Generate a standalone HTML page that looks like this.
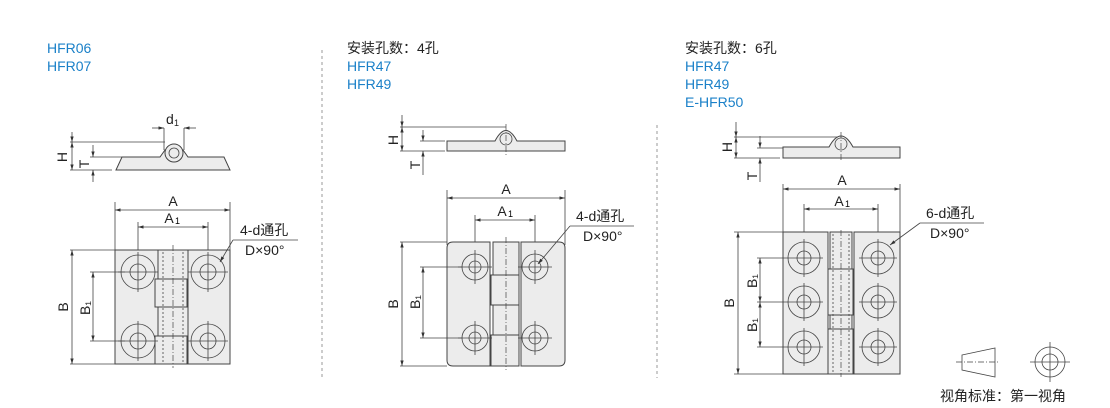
<!DOCTYPE html>
<html><head><meta charset="utf-8"><style>
body{margin:0;background:#fff;}
svg{display:block;font-family:"Liberation Sans","Noto Sans CJK SC",sans-serif;}
.b{fill:#1a80c8;font-size:14px;}
.k{fill:#222;font-size:14px;}
.l{font-size:14px;fill:#222;}
.p{fill:#ececec;stroke:#444;stroke-width:1;}
.d{stroke:#444;stroke-width:0.8;fill:none;}
.c{stroke:#444;stroke-width:0.7;fill:none;stroke-dasharray:6 2 1 2;}
.dash{stroke:#999;stroke-width:1;stroke-dasharray:3 3;}
</style></head><body>
<svg width="1110" height="408" viewBox="0 0 1110 408">
<defs>
<marker id="a" viewBox="0 0 10 10" refX="10" refY="5" markerWidth="7" markerHeight="7" orient="auto-start-reverse"><path d="M0,2 L10,5 L0,8z" fill="#333"/></marker>
<g id="h1">
<circle class="d" cx="0" cy="0" r="17"/><circle class="d" cx="0" cy="0" r="8" fill="#fff"/>
<line class="d" x1="-20" y1="0" x2="20" y2="0"/><line class="d" x1="0" y1="-20" x2="0" y2="20"/>
</g>
<g id="h2">
<circle class="d" r="13"/><circle class="d" r="6" fill="#fff"/>
<line class="d" x1="-17" y1="0" x2="17" y2="0"/><line class="d" x1="0" y1="-17" x2="0" y2="17"/>
</g>
<g id="h3">
<circle class="d" r="16"/><circle class="d" r="7" fill="#fff"/>
<line class="d" x1="-19" y1="0" x2="19" y2="0"/><line class="d" x1="0" y1="-19" x2="0" y2="19"/>
</g>
</defs>
<!-- headers -->
<text class="b" x="47" y="53">HFR06</text><text class="b" x="47" y="71">HFR07</text>
<text class="k" x="347" y="53">安装孔数：4孔</text><text class="b" x="347" y="71">HFR47</text><text class="b" x="347" y="89">HFR49</text>
<text class="k" x="685" y="53">安装孔数：6孔</text><text class="b" x="685" y="71">HFR47</text><text class="b" x="685" y="89">HFR49</text><text class="b" x="685" y="107">E-HFR50</text>
<line class="dash" x1="322" y1="50" x2="322" y2="378"/>
<line class="dash" x1="657" y1="125" x2="657" y2="378"/>

<!-- PANEL 1 top view -->
<path class="p" d="M116,170 L122,157 L160,157 L165,150 L183,150 L188,157 L224,157 L230,170 Z"/>
<circle class="p" cx="174" cy="153" r="9"/><circle class="d" cx="174" cy="153" r="5"/>
<line class="d" x1="164" y1="128" x2="164" y2="150"/><line class="d" x1="184" y1="128" x2="184" y2="150"/>
<line class="d" x1="152" y1="128" x2="164" y2="128" marker-end="url(#a)"/><line class="d" x1="196" y1="128" x2="184" y2="128" marker-end="url(#a)"/>
<text class="l" x="166" y="124">d</text><text x="174" y="126" font-size="9" fill="#222">1</text>
<line class="d" x1="70" y1="142" x2="165" y2="142"/><line class="d" x1="90" y1="157" x2="122" y2="157"/><line class="d" x1="70" y1="170" x2="112" y2="170"/>
<line class="d" x1="72" y1="132" x2="72" y2="142" marker-end="url(#a)"/><line class="d" x1="72" y1="142" x2="72" y2="170" marker-start="url(#a)" marker-end="url(#a)"/>
<line class="d" x1="93" y1="145" x2="93" y2="157" marker-end="url(#a)"/><line class="d" x1="93" y1="182" x2="93" y2="170" marker-end="url(#a)"/>
<text class="l" transform="translate(67,157) rotate(-90)" text-anchor="middle">H</text>
<text class="l" transform="translate(89,164) rotate(-90)" text-anchor="middle">T</text>
<!-- PANEL 1 plan -->
<line class="d" x1="115" y1="202" x2="115" y2="250"/><line class="d" x1="230" y1="202" x2="230" y2="250"/>
<line class="d" x1="115" y1="210" x2="230" y2="210" marker-start="url(#a)" marker-end="url(#a)"/>
<text class="l" x="173" y="206" text-anchor="middle">A</text>
<line class="d" x1="138" y1="222" x2="138" y2="255"/><line class="d" x1="208" y1="222" x2="208" y2="255"/>
<line class="d" x1="138" y1="227" x2="208" y2="227" marker-start="url(#a)" marker-end="url(#a)"/>
<text class="l" x="169" y="223" text-anchor="middle">A</text><text x="175" y="224" font-size="9">1</text>
<rect class="p" x="115" y="250" width="43" height="114"/><rect class="p" x="188" y="250" width="42" height="114"/>
<rect class="p" x="158" y="250" width="30" height="29"/><rect class="p" x="155" y="279" width="32" height="28"/><rect class="p" x="158" y="307" width="30" height="29"/><rect class="p" x="155" y="336" width="32" height="28"/>
<line class="c" x1="173" y1="245" x2="173" y2="368"/>
<line class="d" stroke-dasharray="2 2" x1="163" y1="252" x2="163" y2="362"/><line class="d" stroke-dasharray="2 2" x1="183" y1="252" x2="183" y2="362"/>
<use href="#h1" x="138" y="272"/><use href="#h1" x="138" y="341"/><use href="#h1" x="208" y="272"/><use href="#h1" x="208" y="341"/>
<line class="d" x1="70" y1="250" x2="115" y2="250"/><line class="d" x1="70" y1="364" x2="115" y2="364"/>
<line class="d" x1="72" y1="250" x2="72" y2="364" marker-start="url(#a)" marker-end="url(#a)"/>
<text class="l" transform="translate(68,307) rotate(-90)" text-anchor="middle">B</text>
<line class="d" x1="90" y1="272" x2="125" y2="272"/><line class="d" x1="90" y1="341" x2="125" y2="341"/>
<line class="d" x1="93" y1="272" x2="93" y2="341" marker-start="url(#a)" marker-end="url(#a)"/>
<text class="l" transform="translate(90,308) rotate(-90)" text-anchor="middle">B₁</text>
<text class="l" x="240" y="235">4-d通孔</text><line class="d" x1="233" y1="240" x2="298" y2="240"/><text class="l" x="245" y="255">D×90°</text>
<line class="d" x1="233" y1="240" x2="220" y2="262" marker-end="url(#a)"/>

<!-- PANEL 2 top view -->
<path class="p" d="M447,141 L495,141 Q506,120 517,141 L565,141 L565,151 L447,151 Z"/>
<circle class="d" cx="506" cy="139" r="6"/>
<line class="c" x1="506" y1="124" x2="506" y2="156"/>
<line class="d" x1="400" y1="127" x2="506" y2="127"/><line class="d" x1="420" y1="141" x2="445" y2="141"/><line class="d" x1="400" y1="151" x2="445" y2="151"/>
<line class="d" x1="402" y1="115" x2="402" y2="127" marker-end="url(#a)"/><line class="d" x1="402" y1="127" x2="402" y2="151" marker-start="url(#a)" marker-end="url(#a)"/>
<line class="d" x1="423" y1="130" x2="423" y2="141" marker-end="url(#a)"/><line class="d" x1="423" y1="175" x2="423" y2="151" marker-end="url(#a)"/>
<text class="l" transform="translate(398,140) rotate(-90)" text-anchor="middle">H</text>
<text class="l" transform="translate(420,165) rotate(-90)" text-anchor="middle">T</text>
<!-- PANEL 2 plan -->
<line class="d" x1="447" y1="190" x2="447" y2="245"/><line class="d" x1="565" y1="190" x2="565" y2="245"/>
<line class="d" x1="447" y1="198" x2="565" y2="198" marker-start="url(#a)" marker-end="url(#a)"/>
<text class="l" x="506" y="194" text-anchor="middle">A</text>
<line class="d" x1="475" y1="215" x2="475" y2="255"/><line class="d" x1="535" y1="215" x2="535" y2="255"/>
<line class="d" x1="475" y1="220" x2="535" y2="220" marker-start="url(#a)" marker-end="url(#a)"/>
<text class="l" x="502" y="216" text-anchor="middle">A</text><text x="508" y="217" font-size="9">1</text>
<path class="p" d="M453,242 L490,242 L490,366 L453,366 Q447,366 447,360 L447,248 Q447,242 453,242Z"/>
<path class="p" d="M521,242 L559,242 Q565,242 565,248 L565,360 Q565,366 559,366 L521,366Z"/>
<rect class="p" x="493" y="242" width="26" height="33"/><rect class="p" x="491" y="275" width="28" height="30"/><rect class="p" x="493" y="305" width="26" height="30"/><rect class="p" x="491" y="335" width="28" height="31"/>
<line class="c" x1="506" y1="237" x2="506" y2="370"/>
<use href="#h2" x="475" y="267"/><use href="#h2" x="475" y="338"/><use href="#h2" x="535" y="267"/><use href="#h2" x="535" y="338"/>
<line class="d" x1="400" y1="242" x2="447" y2="242"/><line class="d" x1="400" y1="366" x2="447" y2="366"/>
<line class="d" x1="402" y1="242" x2="402" y2="366" marker-start="url(#a)" marker-end="url(#a)"/>
<text class="l" transform="translate(398,304) rotate(-90)" text-anchor="middle">B</text>
<line class="d" x1="420" y1="267" x2="462" y2="267"/><line class="d" x1="420" y1="338" x2="462" y2="338"/>
<line class="d" x1="423" y1="267" x2="423" y2="338" marker-start="url(#a)" marker-end="url(#a)"/>
<text class="l" transform="translate(420,302) rotate(-90)" text-anchor="middle">B₁</text>
<text class="l" x="576" y="221">4-d通孔</text><line class="d" x1="570" y1="226" x2="634" y2="226"/><text class="l" x="583" y="241">D×90°</text>
<line class="d" x1="570" y1="226" x2="538" y2="264" marker-end="url(#a)"/>

<!-- PANEL 3 top view -->
<path class="p" d="M783,147 L829,147 Q841,125 853,147 L900,147 L900,158 L783,158 Z"/>
<circle class="d" cx="841" cy="144" r="6"/>
<line class="c" x1="841" y1="132" x2="841" y2="160"/>
<line class="d" x1="734" y1="137" x2="838" y2="137"/><line class="d" x1="757" y1="148" x2="783" y2="148"/><line class="d" x1="734" y1="158" x2="780" y2="158"/>
<line class="d" x1="736" y1="122" x2="736" y2="137" marker-end="url(#a)"/><line class="d" x1="736" y1="137" x2="736" y2="158" marker-start="url(#a)" marker-end="url(#a)"/>
<line class="d" x1="760" y1="136" x2="760" y2="148" marker-end="url(#a)"/><line class="d" x1="760" y1="182" x2="760" y2="158" marker-end="url(#a)"/>
<text class="l" transform="translate(732,147) rotate(-90)" text-anchor="middle">H</text>
<text class="l" transform="translate(757,176) rotate(-90)" text-anchor="middle">T</text>
<!-- PANEL 3 plan -->
<line class="d" x1="783" y1="184" x2="783" y2="232"/><line class="d" x1="900" y1="184" x2="900" y2="232"/>
<line class="d" x1="783" y1="189" x2="900" y2="189" marker-start="url(#a)" marker-end="url(#a)"/>
<text class="l" x="842" y="185" text-anchor="middle">A</text>
<line class="d" x1="804" y1="204" x2="804" y2="240"/><line class="d" x1="878" y1="204" x2="878" y2="240"/>
<line class="d" x1="804" y1="209" x2="878" y2="209" marker-start="url(#a)" marker-end="url(#a)"/>
<text class="l" x="839" y="206" text-anchor="middle">A</text><text x="845" y="207" font-size="9">1</text>
<rect class="p" x="783" y="232" width="45" height="142"/><rect class="p" x="854" y="232" width="46" height="142"/>
<rect class="p" x="830" y="232" width="22" height="37"/><rect class="p" x="828" y="269" width="25" height="46"/><rect class="p" x="830" y="315" width="22" height="14"/><rect class="p" x="828" y="329" width="25" height="45"/>
<line class="c" x1="841" y1="230" x2="841" y2="377"/>
<line class="d" stroke-dasharray="2 2" x1="833" y1="234" x2="833" y2="372"/><line class="d" stroke-dasharray="2 2" x1="849" y1="234" x2="849" y2="372"/>
<use href="#h3" x="804" y="258"/><use href="#h3" x="804" y="302"/><use href="#h3" x="804" y="347"/>
<use href="#h3" x="878" y="258"/><use href="#h3" x="878" y="302"/><use href="#h3" x="878" y="347"/>
<line class="d" x1="734" y1="232" x2="783" y2="232"/><line class="d" x1="734" y1="374" x2="783" y2="374"/>
<line class="d" x1="738" y1="232" x2="738" y2="374" marker-start="url(#a)" marker-end="url(#a)"/>
<text class="l" transform="translate(734,303) rotate(-90)" text-anchor="middle">B</text>
<line class="d" x1="757" y1="258" x2="785" y2="258"/><line class="d" x1="757" y1="302" x2="785" y2="302"/><line class="d" x1="757" y1="347" x2="785" y2="347"/>
<line class="d" x1="760" y1="258" x2="760" y2="302" marker-start="url(#a)" marker-end="url(#a)"/>
<line class="d" x1="760" y1="302" x2="760" y2="347" marker-start="url(#a)" marker-end="url(#a)"/>
<text class="l" transform="translate(757,281) rotate(-90)" text-anchor="middle">B₁</text>
<text class="l" transform="translate(757,325) rotate(-90)" text-anchor="middle">B₁</text>
<text class="l" x="926" y="218">6-d通孔</text><line class="d" x1="920" y1="223" x2="984" y2="223"/><text class="l" x="930" y="238">D×90°</text>
<line class="d" x1="920" y1="223" x2="890" y2="245" marker-end="url(#a)"/>

<!-- legend -->
<path class="d" d="M962,355 L995,348 L995,377 L962,370 Z"/>
<line class="c" x1="956" y1="362" x2="1000" y2="362"/>
<circle class="d" cx="1050" cy="362" r="15"/><circle class="d" cx="1050" cy="362" r="8"/>
<line class="d" x1="1030" y1="362" x2="1070" y2="362"/><line class="d" x1="1050" y1="342" x2="1050" y2="382"/>
<text class="k" x="940" y="401" font-size="15">视角标准：第一视角</text>
</svg>
</body></html>
